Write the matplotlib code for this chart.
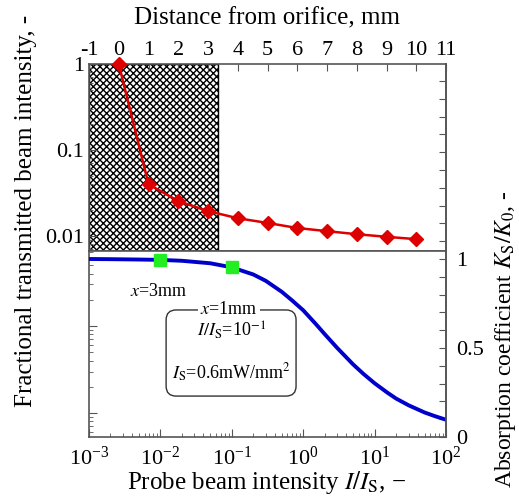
"""Transmitted beam intensity vs distance, and saturation curve."""

import matplotlib

matplotlib.use("Agg")
import matplotlib.pyplot as plt
from matplotlib.patches import FancyBboxPatch

plt.rcParams["font.family"] = "serif"
plt.rcParams["font.serif"] = ["Liberation Serif", "DejaVu Serif"]
plt.rcParams["mathtext.fontset"] = "stix"
plt.rcParams["axes.unicode_minus"] = False
plt.rcParams["hatch.linewidth"] = 1.0

# top panel: fractional transmitted intensity vs distance from orifice
distance_mm = [0, 1, 2, 3, 4, 5, 6, 7, 8, 9, 10]
transmitted = [1.0, 0.040, 0.0255, 0.0195, 0.0161, 0.0142, 0.0124, 0.0114, 0.0105, 0.0098, 0.0092]
nozzle_end_mm = 3.33

# bottom panel: absorption coefficient vs probe intensity
intensity_ratio = [1e-3, 2e-3, 5e-3, 1e-2, 2e-2, 5e-2, 0.1, 0.2, 0.3, 0.5, 0.7, 1, 1.5,
                   2, 3, 5, 7, 10, 15, 20, 30, 50, 70, 100]
absorption = [1.0, 0.999, 0.997, 0.995, 0.99, 0.976, 0.953, 0.913, 0.877, 0.816, 0.767,
              0.712, 0.635, 0.578, 0.5, 0.408, 0.354, 0.302, 0.25, 0.216, 0.178, 0.138,
              0.117, 0.097]
marker_ratio = [1e-2, 1e-1]
marker_absorption = [0.995, 0.953]

axis_col = "#555555"
W, H = 519, 501
fig = plt.figure(figsize=(W / 100, H / 100), dpi=100)

left, right = 89 / W, 446 / W
ax1 = fig.add_axes([left, 1 - 251 / H, right - left, (251 - 64) / H])
ax2 = fig.add_axes([left, 1 - 437 / H, right - left, (437 - 251) / H])

for ax in (ax1, ax2):
    for sp in ax.spines.values():
        sp.set_color(axis_col)
        sp.set_linewidth(1.2)

# ---- top panel
ax1.axvspan(-1, nozzle_end_mm, facecolor="white", edgecolor="black", hatch="xxxxx",
            lw=1.0, zorder=1)
ax1.plot(distance_mm, transmitted, color="#dd0000", lw=1.8, marker="D", ms=7.5,
         zorder=3, clip_on=False)
ax1.set_xlim(-1, 11)
ax1.set_yscale("log")
ax1.set_ylim(0.0067, 1)
ax1.xaxis.tick_top()
ax1.set_xticks(range(-1, 12))
ax1.tick_params(axis="x", direction="in", top=True, bottom=False, length=5,
                color=axis_col, labelsize=16, pad=3)
ax1.set_yticks([0.01, 0.1, 1], ["0.01", "0.1", "1"])
ax1.tick_params(axis="y", which="both", direction="in", right=False, color=axis_col,
                labelsize=16)
ax1.tick_params(axis="y", which="major", length=6)
ax1.tick_params(axis="y", which="minor", length=3)

ax1r = ax1.twinx()
ax1r.set_ylim((437 - 251) / 178, (437 - 64) / 178)
ax1r.set_yticks([1.1 + 0.1 * i for i in range(10)], [""] * 10)
ax1r.tick_params(axis="y", direction="in", length=5, color=axis_col)
ax1r.spines["right"].set_color(axis_col)
ax1r.spines["right"].set_linewidth(1.2)
for s in ("top", "bottom", "left"):
    ax1r.spines[s].set_visible(False)

# ---- bottom panel
ax2.set_xscale("log")
ax2.set_xlim(1e-3, 1e2)
ax2.set_yscale("log")
ax2.set_ylim(0.053, 7.28)
ax2.yaxis.set_major_formatter(plt.NullFormatter())
ax2.yaxis.set_minor_formatter(plt.NullFormatter())
ax2.tick_params(which="both", direction="in", top=False, right=False, color=axis_col,
                labelsize=16)
ax2.tick_params(which="major", length=6)
ax2.tick_params(which="minor", length=3)
ax2.tick_params(axis="x", pad=7)

ax3 = ax2.twinx()
ax3.set_ylim(0, (437 - 251) / 178)
ax3.plot(intensity_ratio, absorption, color="#0000cc", lw=2.8, zorder=2)
ax3.plot(marker_ratio, marker_absorption, ls="none", marker="s", ms=8.5,
         color="#22ee22", zorder=3)
ticks = [0.1 * i for i in range(11)]
ax3.set_yticks(ticks, ["0" if i == 0 else "0.5" if i == 5 else "1" if i == 10 else ""
                       for i in range(11)])
ax3.tick_params(axis="y", direction="in", length=5, color=axis_col, labelsize=16, pad=7)
ax3.spines["right"].set_color(axis_col)
ax3.spines["right"].set_linewidth(1.2)
for s in ("top", "bottom", "left"):
    ax3.spines[s].set_visible(False)

ax2.text(0.196, 0.78, "$x$=3mm", transform=ax2.transAxes, ha="center", va="center",
         fontsize=13)
box = FancyBboxPatch((0.216, 0.22), 0.364, 0.463, transform=ax2.transAxes,
                     boxstyle="round,pad=0,rounding_size=0.028", mutation_aspect=357 / 186,
                     facecolor="none", edgecolor="#333333", lw=1.0, zorder=4)
ax2.add_patch(box)
ax2.text(0.392, 0.683, "$x$=1mm", transform=ax2.transAxes, ha="center", va="center",
         fontsize=13, zorder=5,
         bbox=dict(facecolor="white", edgecolor="none", pad=1.5))
ax2.text(0.398, 0.575, "$I/I_\\mathrm{S}$=10$^{-1}$", transform=ax2.transAxes,
         ha="center", va="center", fontsize=13, zorder=5)
ax2.text(0.398, 0.344, "$I_\\mathrm{S}$=0.6mW/mm$^{2}$", transform=ax2.transAxes,
         ha="center", va="center", fontsize=13, zorder=5)

# ---- labels
fig.text(267 / W, 1 - 18 / H, "Distance from orifice, mm", ha="center", va="center",
         fontsize=18)
fig.text(267 / W, 1 - 483 / H, "Probe beam intensity $I/I_\\mathrm{S}$, \u2212",
         ha="center", va="center", fontsize=18)
fig.text(26 / W, 1 - 211 / H, "Fractional transmitted beam intensity, -", rotation=90,
         ha="center", va="center", fontsize=18)
fig.text(505 / W, 1 - 339 / H, "Absorption coefficient $K_\\mathrm{S}/K_0$, -",
         rotation=90, ha="center", va="center", fontsize=17)

fig.savefig("out.png", dpi=100)
